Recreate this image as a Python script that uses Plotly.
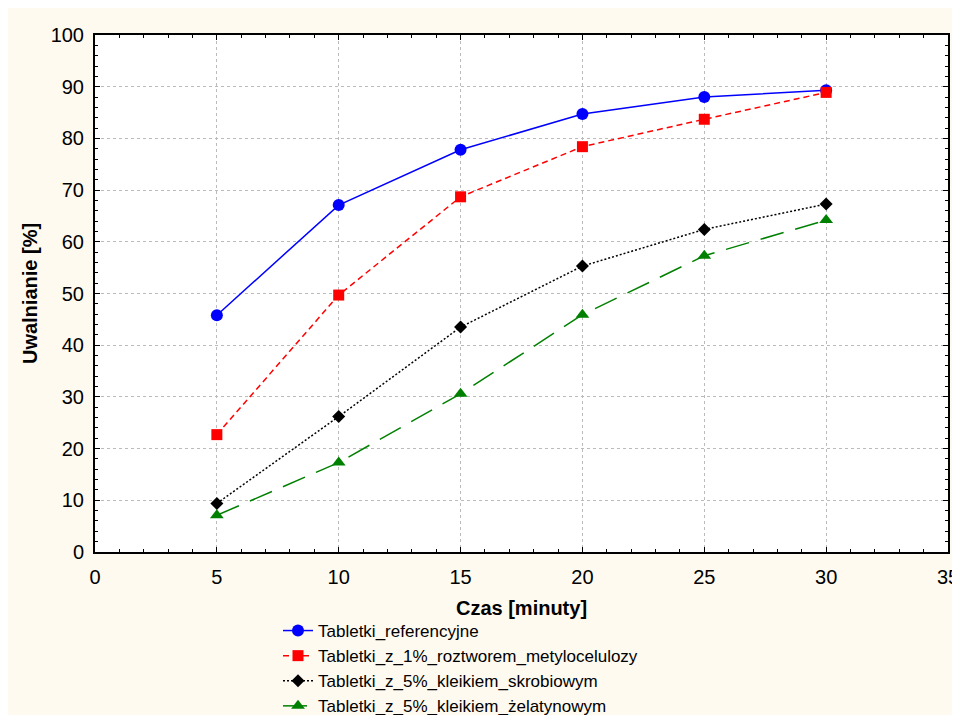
import plotly.graph_objects as go

czas = [5, 10, 15, 20, 25, 30]
referencyjne = [45.8, 67.1, 77.8, 84.7, 88.0, 89.3]
metyloceluloza = [22.7, 49.7, 68.7, 78.4, 83.7, 88.9]
skrobia = [9.4, 26.2, 43.5, 55.3, 62.4, 67.3]
zelatyna = [7.1, 17.3, 30.6, 45.9, 57.3, 64.2]

names = ["Tabletki_referencyjne", "Tabletki_z_1%_roztworem_metylocelulozy",
         "Tabletki_z_5%_kleikiem_skrobiowym", "Tabletki_z_5%_kleikiem_żelatynowym"]

# page body has an 8px margin; figure drawn from (8, 8)
W, H = 952, 707
L, R, T, B = 87, 12, 27, 163
FONT = "Arial, Liberation Sans"

fig = go.Figure()
fig.add_trace(go.Scatter(x=czas, y=referencyjne, name=names[0], mode="lines+markers",
                         line=dict(color="#0000FF", width=1.5),
                         marker=dict(symbol="circle", size=12, color="#0000FF")))
fig.add_trace(go.Scatter(x=czas, y=metyloceluloza, name=names[1], mode="lines+markers",
                         line=dict(color="#FF0000", width=1.5, dash="6px,4px"),
                         marker=dict(symbol="square", size=11, color="#FF0000")))
fig.add_trace(go.Scatter(x=czas, y=skrobia, name=names[2], mode="lines+markers",
                         line=dict(color="#000000", width=1.5, dash="2px,2px"),
                         marker=dict(symbol="diamond", size=10, color="#000000")))
fig.add_trace(go.Scatter(x=czas, y=zelatyna, name=names[3], mode="lines+markers",
                         line=dict(color="#008000", width=1.5, dash="24px,12px"),
                         marker=dict(symbol="triangle-up", size=12, color="#008000")))

axis_common = dict(
    showline=True, linecolor="#000000", linewidth=2, mirror="ticks",
    ticks="inside", ticklen=5, tickwidth=1, tickcolor="#000000",
    showgrid=True, gridcolor="#BBBBBB", griddash="dot", gridwidth=1,
    zeroline=False, automargin=False, ticklabeloverflow="allow",
    tickfont=dict(family=FONT, size=20, color="#000000"),
)

fig.update_xaxes(range=[0, 35], dtick=5, tick0=0, ticklabelstandoff=6,
                 minor=dict(dtick=1, ticks="inside", ticklen=3, tickcolor="#000000", showgrid=False),
                 title=dict(text="<b>Czas [minuty]</b>", standoff=14,
                            font=dict(family=FONT, size=20, color="#000000")),
                 **axis_common)
fig.update_yaxes(range=[0, 100], dtick=10, tick0=0, ticklabelstandoff=5,
                 minor=dict(dtick=2, ticks="inside", ticklen=3, tickcolor="#000000", showgrid=False),
                 title=dict(text="<b>Uwalnianie [%]</b>", standoff=8,
                            font=dict(family=FONT, size=20, color="#000000")),
                 **axis_common)

pw = W - L - R
ph = H - T - B

fig.update_layout(
    width=W, height=H,
    margin=dict(l=L, r=R, t=T, b=B, autoexpand=False),
    paper_bgcolor="#FFFAF0", plot_bgcolor="#FFFFFF",
    font=dict(family=FONT, color="#000000"),
    legend=dict(x=(270 - L) / pw, y=(H - B - 605) / ph, xanchor="left", yanchor="top",
                bgcolor="rgba(0,0,0,0)", font=dict(size=17, family=FONT),
                tracegroupgap=0, itemwidth=30),
    showlegend=True,
)

fig.write_html("out.html")
